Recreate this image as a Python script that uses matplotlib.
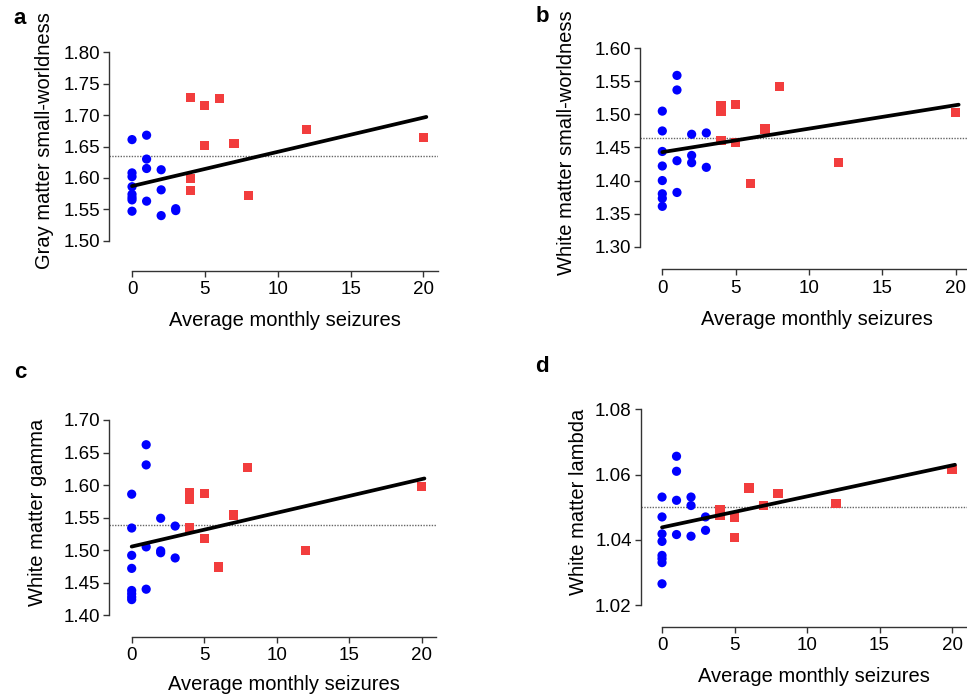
import matplotlib
matplotlib.use("Agg")
from matplotlib import pyplot as plt
import numpy as np

plt.rcParams['font.family'] = ['Liberation Sans', 'DejaVu Sans']

W, H = 967, 697

# shared x values (average monthly seizures)
blue_x = [0] * 8 + [1] * 4 + [2] * 3 + [3] * 2
red_x = [4, 4, 4, 5, 5, 6, 7, 8, 12, 20]

# a: gray matter small-worldness
a_blue = [1.661, 1.608, 1.602, 1.586, 1.574, 1.569, 1.565, 1.547,
          1.668, 1.630, 1.615, 1.563,
          1.613, 1.581, 1.540,
          1.551, 1.548]
a_red = [1.728, 1.599, 1.580, 1.715, 1.651, 1.726, 1.655, 1.572, 1.677, 1.664]
a_fit = (1.587, 0.00545)
a_ref = 1.635

# b: white matter small-worldness
b_blue = [1.505, 1.475, 1.444, 1.422, 1.400, 1.380, 1.373, 1.361,
          1.559, 1.537, 1.430, 1.382,
          1.470, 1.438, 1.427,
          1.472, 1.420]
b_red = [1.514, 1.504, 1.461, 1.515, 1.457, 1.395, 1.478, 1.542, 1.427, 1.503]
b_fit = (1.443, 0.00355)
b_ref = 1.465

# c: white matter gamma
c_blue = [1.586, 1.534, 1.492, 1.472, 1.438, 1.433, 1.428, 1.424,
          1.662, 1.631, 1.505, 1.440,
          1.549, 1.499, 1.496,
          1.537, 1.488]
c_red = [1.588, 1.578, 1.534, 1.587, 1.518, 1.474, 1.554, 1.627, 1.500, 1.598]
c_fit = (1.5055, 0.00518)
c_ref = 1.538

# d: white matter lambda
d_blue = [1.0531, 1.0470, 1.0418, 1.0395, 1.0352, 1.0342, 1.0330, 1.0265,
          1.0656, 1.0610, 1.0521, 1.0416,
          1.0531, 1.0505, 1.0411,
          1.0470, 1.0429]
d_red = [1.0494, 1.0486, 1.0474, 1.0470, 1.0406, 1.0559, 1.0505, 1.0543,
         1.0511, 1.0616]
d_fit = (1.0438, 0.00095)
d_ref = 1.0502


def panel(fig, box, xlim, ylim, ybounds, yticks, blue, red, fit, ref):
    left, top, right, bottom = box
    ax = fig.add_axes([left / W, 1 - bottom / H, (right - left) / W,
                       (bottom - top) / H])
    ax.set_xlim(*xlim)
    ax.set_ylim(*ylim)
    for s in ['top', 'right']:
        ax.spines[s].set_visible(False)
    ax.spines['left'].set_bounds(*ybounds)
    ax.spines['bottom'].set_bounds(0, xlim[1])
    for s in ['left', 'bottom']:
        ax.spines[s].set_linewidth(1.0)
        ax.spines[s].set_color('#333333')
    ax.set_xticks([0, 5, 10, 15, 20])
    ax.set_yticks(yticks)
    ax.set_yticklabels(['%.2f' % t for t in yticks])
    ax.tick_params(direction='out', length=4.5, width=1.0, color='#333333',
                   labelsize=13.5, pad=2)
    ax.tick_params(axis='x', pad=3)
    ax.patch.set_alpha(0)

    ax.plot([xlim[0], xlim[1]], [ref, ref], linestyle=(0, (1, 1)),
            color='#666666', linewidth=1.0, zorder=1)
    ax.scatter(blue_x, blue, s=44, marker='o', color='#0000FF',
               edgecolors='none', zorder=3, clip_on=False)
    ax.scatter(red_x, red, s=44, marker='s', color='#F23D3D',
               edgecolors='none', zorder=3, clip_on=False)
    fx = np.array([0, 20.2])
    ax.plot(fx, fit[0] + fit[1] * fx, color='black', linewidth=2.7,
            solid_capstyle='round', zorder=4)
    return ax


fig = plt.figure(figsize=(W / 100, H / 100), dpi=100)

panel(fig, (109, 52.3, 438, 271), (-1.58, 21), (1.4518, 1.80), (1.50, 1.80),
      [1.50, 1.55, 1.60, 1.65, 1.70, 1.75, 1.80], a_blue, a_red, a_fit, a_ref)
panel(fig, (640.3, 48.3, 967, 269.3), (-1.5, 20.77), (1.2658, 1.60),
      (1.30, 1.60), [1.30, 1.35, 1.40, 1.45, 1.50, 1.55, 1.60],
      b_blue, b_red, b_fit, b_ref)
panel(fig, (109.3, 420, 436, 636.7), (-1.545, 21), (1.367, 1.70),
      (1.40, 1.70), [1.40, 1.45, 1.50, 1.55, 1.60, 1.65, 1.70],
      c_blue, c_red, c_fit, c_ref)
panel(fig, (640.7, 409.3, 967, 626.7), (-1.47, 21.03), (1.01335, 1.08),
      (1.02, 1.08), [1.02, 1.04, 1.06, 1.08], d_blue, d_red, d_fit, d_ref)


def txt(x, y, s, **kw):
    fig.text(x / W, 1 - y / H, s, **kw)


label_kw = dict(fontsize=14.5, ha='center', va='center')
txt(285, 320, "Average monthly seizures", **label_kw)
txt(817, 319, "Average monthly seizures", **label_kw)
txt(284, 685, "Average monthly seizures", **label_kw)
txt(814, 676, "Average monthly seizures", **label_kw)
txt(45, 141, "Gray matter small-worldness", rotation=90, **label_kw)
txt(567, 143, "White matter small-worldness", rotation=90, **label_kw)
txt(38, 512, "White matter gamma", rotation=90, **label_kw)
txt(578, 502, "White matter lambda", rotation=90, **label_kw)

letter_kw = dict(fontsize=16, fontweight='bold', ha='center', va='center')
txt(20, 19, "a", **letter_kw)
txt(542, 17, "b", **letter_kw)
txt(20, 372, "c", **letter_kw)
txt(542, 367, "d", **letter_kw)

fig.savefig("out.png", dpi=100)
